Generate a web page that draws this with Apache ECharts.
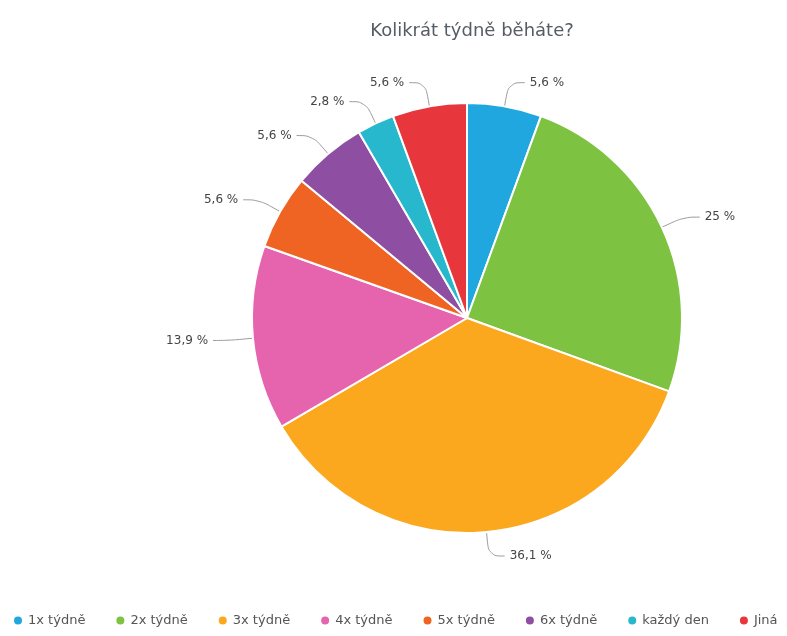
<!DOCTYPE html>
<html>
<head>
<meta charset="utf-8">
<script src="https://cdn.jsdelivr.net/npm/echarts@6/dist/echarts.min.js"></script>
<style>
  html, body { margin: 0; padding: 0; background: #ffffff; }
  #chart { width: 787px; height: 636px; }
</style>
</head>
<body>
<div id="chart"></div>
<script>
// Survey answers: how many times a week do you run
const categories = ['1x týdně', '2x týdně', '3x týdně', '4x týdně', '5x týdně', '6x týdně', 'každý den', 'Jiná'];
const shares = [5.6, 25, 36.1, 13.9, 5.6, 5.6, 2.8, 5.6];
const colors = ['#21a7e0', '#7ec242', '#fba81f', '#e664ad', '#f06423', '#8e4fa3', '#27b8cd', '#e8373c'];

const chart = echarts.init(document.getElementById('chart'), null, { renderer: 'canvas' });

const pieData = categories.map((name, i) => ({
  name: name,
  value: shares[i],
  itemStyle: { color: colors[i] }
}));

chart.setOption({
  backgroundColor: '#ffffff',
  animation: false,
  title: {
    text: 'Kolikrát týdně běháte?',
    left: 467,
    textAlign: 'center',
    top: 17,
    textStyle: {
      fontFamily: 'DejaVu Sans',
      fontSize: 18,
      fontWeight: 'normal',
      color: '#565c63'
    }
  },
  legend: {
    data: categories,
    left: 7,
    top: 609,
    width: 1000,
    icon: 'circle',
    itemWidth: 10,
    itemHeight: 10,
    itemGap: 29,
    textStyle: {
      fontFamily: 'DejaVu Sans',
      fontSize: 13,
      color: '#555555'
    }
  },
  series: [{
    type: 'pie',
    center: [467, 318],
    radius: 215,
    startAngle: 90,
    clockwise: true,
    data: pieData,
    itemStyle: {
      borderColor: '#ffffff',
      borderWidth: 2
    },
    label: {
      show: true,
      fontFamily: 'DejaVu Sans',
      fontSize: 12,
      color: '#444444',
      formatter: p => String(p.value).replace('.', ',') + ' %'
    },
    labelLine: {
      show: true,
      length: 24,
      length2: 16,
      smooth: 0.4,
      lineStyle: { color: '#9a9a9a', width: 1 }
    },
    emphasis: { disabled: true }
  }]
});
</script>
</body>
</html>
